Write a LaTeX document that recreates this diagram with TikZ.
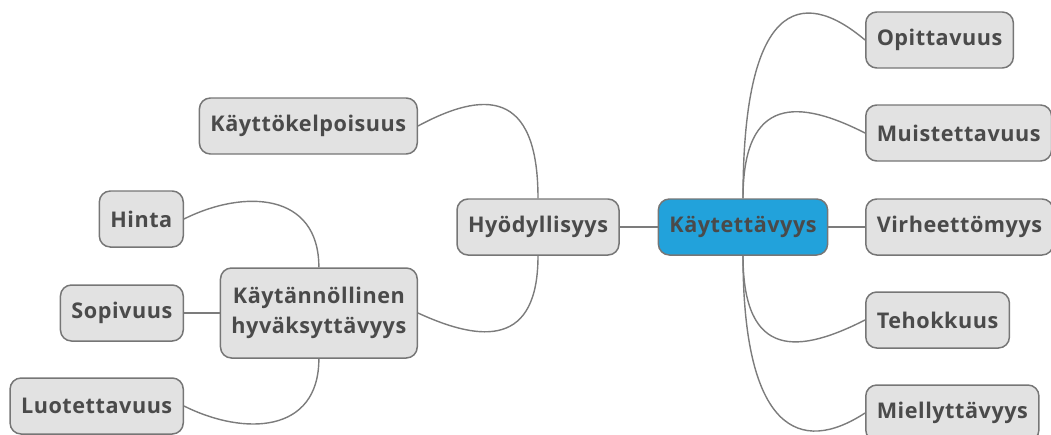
\documentclass[tikz,border=0pt]{standalone}
\usepackage{fontspec}
\setmainfont[LetterSpace=2.5]{Open Sans}
\definecolor{boxfill}{HTML}{E2E2E2}
\definecolor{boxline}{HTML}{767676}
\definecolor{boxtext}{HTML}{4A4A4A}
\definecolor{rootblue}{HTML}{22A2DB}
\definecolor{linkgray}{HTML}{7C7C7C}
\begin{document}
\begin{tikzpicture}[
    topic/.style={draw=boxline, line width=0.85pt, fill=boxfill, rounded corners=0.22cm,
      text=boxtext, font=\fontsize{12.3}{17}\selectfont\bfseries,
      minimum height=1.12cm, inner xsep=0.22cm, align=center},
    root/.style={topic, fill=rootblue},
    link/.style={draw=linkgray, line width=0.8pt}
  ]
            \useasboundingbox (0,0) rectangle (21.02,8.68);
            % keskella
            \node[root] (kay) at (14.86,4.14) {Käytettävyys};
            \node[topic] (hyo) at (10.76,4.14) {Hyödyllisyys};
            \node[topic, anchor=east] (kel) at (8.36,6.16) {Käyttökelpoisuus};
            \node[topic, anchor=east, minimum height=1.8cm] (kayt) at (8.36,2.42) {Käytännöllinen\\hyväksyttävyys};
            % oikea puoli
            \foreach \name/\txt/\y in {opi/Opittavuus/7.88, mui/Muistettavuus/6.02,
                vir/Virheettömyys/4.14, teh/Tehokkuus/2.28, mie/Miellyttävyys/0.42}{
              \node[topic, anchor=west] (\name) at (17.30,\y) {\txt};
            }
            % vasen puoli
            \foreach \name/\txt/\y in {hin/Hinta/4.30, sop/Sopivuus/2.42, luo/Luotettavuus/0.56}{
              \node[topic, anchor=east] (\name) at (3.68,\y) {\txt};
            }
            \draw[link] (hyo) -- (kay);
            \draw[link] (kay) -- (vir);
            \draw[link] (kayt) -- (sop);
            \draw[link] (kay.north) .. controls +(0,3.9) and +(-1.3,1.1) .. (opi.west);
            \draw[link] (kay.north) .. controls +(0,2.08) and +(-1.3,0.66) .. (mui.west);
            \draw[link] (kay.south) .. controls +(0,-2.1) and +(-1.3,-0.66) .. (teh.west);
            \draw[link] (kay.south) .. controls +(0,-3.5) and +(-1.3,-0.85) .. (mie.west);
            \draw[link] (hyo.north) .. controls +(0,2.2) and +(1.3,0.7) .. (kel.east);
            \draw[link] (hyo.south) .. controls +(0,-1.8) and +(1.3,-0.6) .. (kayt.east);
            \draw[link] (kayt.north) .. controls +(0,1.5) and +(1.2,0.6) .. (hin.east);
            \draw[link] (kayt.south) .. controls +(0,-1.5) and +(1.2,-0.6) .. (luo.east);
\end{tikzpicture}
\end{document}
